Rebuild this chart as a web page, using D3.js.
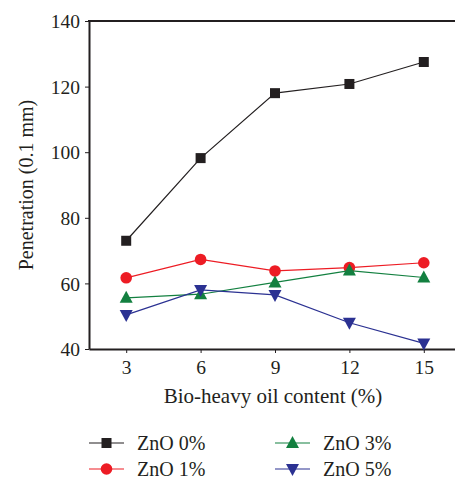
<!DOCTYPE html>
<html><head><meta charset="utf-8">
<script src="https://cdn.jsdelivr.net/npm/d3@7"></script>
<style>body{margin:0;background:#fff}svg{display:block}</style>
</head><body>
<svg id="c" width="455" height="480"></svg>
<script>
const xValues = [3, 6, 9, 12, 15];
const yTicks = [40, 60, 80, 100, 120, 140];
const seriesNames = ["ZnO 0%", "ZnO 1%", "ZnO 3%", "ZnO 5%"];
const zno0 = [73.0, 98.2, 118.0, 120.8, 127.5];
const zno1 = [61.7, 67.3, 63.8, 64.8, 66.3];
const zno3 = [55.6, 56.7, 60.3, 63.9, 61.8];
const zno5 = [50.4, 58.0, 56.5, 48.0, 41.7];
const seriesValues = [zno0, zno1, zno3, zno5];
const colors = ["#231f20", "#ed1c24", "#138040", "#2b3192"];
const symbols = ["square", "circle", "triangle", "triangleDown"];

const svg = d3.select("#c");
const font = "'Liberation Serif', 'DejaVu Serif', serif";
const L = 89, R = 461, T = 21, B = 349;
const x = d3.scaleLinear().domain([1.5, 16.5]).range([L, R]);
const y = d3.scaleLinear().domain([40, 140]).range([B, T]);

// axes
const xAxis = svg.append("g").attr("transform", `translate(0,${B})`)
  .call(d3.axisBottom(x).tickValues(xValues).tickSize(4).tickPadding(5).tickSizeOuter(0));
const yAxis = svg.append("g").attr("transform", `translate(${L},0)`)
  .call(d3.axisLeft(y).tickValues(yTicks).tickSize(4).tickPadding(5).tickSizeOuter(0));
[xAxis, yAxis].forEach(g => {
  g.select(".domain").attr("stroke", "#231f20").attr("stroke-width", 2);
  g.selectAll(".tick line").attr("stroke", "#231f20").attr("stroke-width", 1);
  g.selectAll("text").attr("font-family", font).attr("font-size", 19.5).attr("fill", "#231f20");
});
xAxis.selectAll("text").attr("dy", "0.8em");
yAxis.selectAll("text").attr("dy", "0.34em");
// top frame line
svg.append("line").attr("x1", x(1.5) - 1).attr("x2", x(16.5)).attr("y1", y(140)).attr("y2", y(140))
  .attr("stroke", "#231f20").attr("stroke-width", 2);

// titles
svg.append("text").attr("x", (L + R) / 2 - 2).attr("y", 403).attr("text-anchor", "middle")
  .attr("font-family", font).attr("font-size", 21).attr("fill", "#231f20")
  .text("Bio-heavy oil content (%)");
svg.append("text").attr("transform", `translate(33,${(T + B) / 2}) rotate(-90)`)
  .attr("text-anchor", "middle").attr("font-family", font).attr("font-size", 20).attr("fill", "#231f20")
  .text("Penetration (0.1 mm)");

function drawMarker(g, type, cx, cy, color) {
  if (type === "square") {
    g.append("rect").attr("x", cx - 5).attr("y", cy - 5).attr("width", 10).attr("height", 10).attr("fill", color);
  } else if (type === "circle") {
    g.append("circle").attr("cx", cx).attr("cy", cy).attr("r", 5.8).attr("fill", color);
  } else if (type === "triangle") {
    g.append("path").attr("d", `M${cx},${cy - 7}L${cx + 6.5},${cy + 5}L${cx - 6.5},${cy + 5}Z`).attr("fill", color);
  } else {
    g.append("path").attr("d", `M${cx},${cy + 7}L${cx + 6.5},${cy - 5}L${cx - 6.5},${cy - 5}Z`).attr("fill", color);
  }
}

const line = d3.line().x(d => x(d[0])).y(d => y(d[1]));
seriesValues.forEach((vals, i) => {
  const pts = xValues.map((xv, j) => [xv, vals[j]]);
  const g = svg.append("g");
  g.append("path").attr("d", line(pts)).attr("fill", "none").attr("stroke", colors[i]).attr("stroke-width", 1.2);
  pts.forEach(p => drawMarker(g, symbols[i], x(p[0]), y(p[1]), colors[i]));
});

// legend
const legPos = [[89, 443], [89, 469], [275, 443], [275, 469]];
seriesNames.forEach((name, i) => {
  const [lx, ly] = legPos[i];
  const g = svg.append("g");
  g.append("line").attr("x1", lx).attr("x2", lx + 35).attr("y1", ly).attr("y2", ly)
    .attr("stroke", colors[i]).attr("stroke-width", 1.2);
  drawMarker(g, symbols[i], lx + 17.5, ly, colors[i]);
  g.append("text").attr("x", lx + 48).attr("y", ly + 6.5).attr("font-family", font).attr("font-size", 20)
    .attr("fill", "#231f20").text(name);
});
</script>
</body></html>
